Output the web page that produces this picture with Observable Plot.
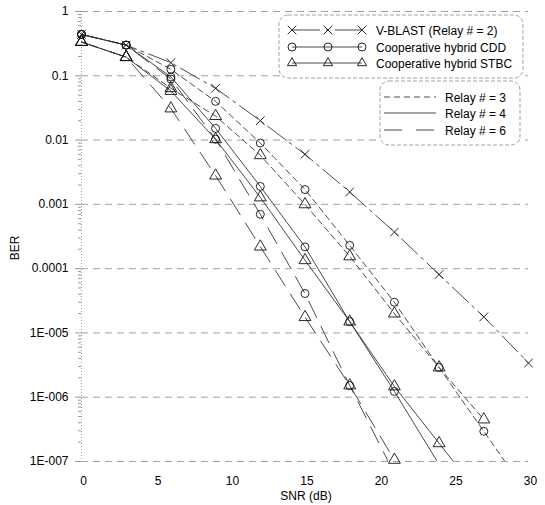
<!DOCTYPE html>
<html><head><meta charset="utf-8">
<script src="https://cdn.jsdelivr.net/npm/d3@7"></script>
<script src="https://cdn.jsdelivr.net/npm/@observablehq/plot@0.6"></script>
<style>
body{margin:0;background:#fff;}
svg{font-family:"Liberation Sans",Arial,sans-serif;}
</style>
</head><body><div id="chart"></div>
<script>
// ---- data ----
const snr = [0, 3, 6, 9, 12, 15, 18, 21, 24, 27, 30];
const vblast = [0.44, 0.30, 0.16, 0.064, 0.020, 0.0060, 0.00156, 0.00037, 8.1e-5, 1.78e-5, 3.4e-6];
const cdd3   = [0.44, 0.30, 0.126, 0.040, 0.0090, 0.0017, 2.3e-4, 3.0e-5, 2.9e-6, 2.95e-7, 3e-8];
const cdd4   = [0.44, 0.30, 0.096, 0.0152, 0.0019, 2.18e-4, 1.5e-5, 1.23e-6, 9e-8];
const cdd6   = [0.44, 0.30, 0.089, 0.0103, 7.0e-4, 4.1e-5, 1.52e-6, 6.5e-8];
const stbc3  = [0.335, 0.195, 0.064, 0.0236, 0.0058, 1.0e-3, 1.55e-4, 2.0e-5, 2.9e-6, 4.5e-7];
const stbc4  = [0.335, 0.195, 0.058, 0.0103, 0.00128, 1.35e-4, 1.5e-5, 1.47e-6, 1.92e-7, 2.5e-8];
const stbc6  = [0.335, 0.195, 0.031, 0.0028, 2.2e-4, 1.76e-5, 1.52e-6, 1.06e-7];

const yTicks = [1, 0.1, 0.01, 0.001, 1e-4, 1e-5, 1e-6, 1e-7];
const yTickLabels = ["1", "0.1", "0.01", "0.001", "0.0001", "1E-005", "1E-006", "1E-007"];
const xTicks = [0, 5, 10, 15, 20, 25, 30];
const markerLegend = ["V-BLAST (Relay # = 2)", "Cooperative hybrid CDD", "Cooperative hybrid STBC"];
const relayLegend = ["Relay # = 3", "Relay # = 4", "Relay # = 6"];

// ---- styles ----
const dashes = {vblast: "22,5,3,5", r3: "6,4", r4: null, r6: "18,10"};
const series = [
  {values: vblast, symbol: "times", dash: dashes.vblast},
  {values: cdd3, symbol: "circle", dash: dashes.r3},
  {values: cdd4, symbol: "circle", dash: dashes.r4},
  {values: cdd6, symbol: "circle", dash: dashes.r6},
  {values: stbc3, symbol: "triangle", dash: dashes.r3},
  {values: stbc4, symbol: "triangle", dash: dashes.r4},
  {values: stbc6, symbol: "triangle", dash: dashes.r6}
];
const rowsOf = s => s.values.map((v, i) => ({snr: snr[i], ber: v}));

const minor = [];
for (let e = -7; e < 0; e++) for (let k = 2; k <= 9; k++) minor.push(k * Math.pow(10, e));

const symR = {times: 4, circle: 4, triangle: 4.4};

const marks = [
  Plot.ruleY(yTicks, {stroke: "#999", strokeWidth: 0.9, strokeDasharray: "7,5"}),
  Plot.ruleX([0], {stroke: "#999", strokeWidth: 0.9, strokeDasharray: "1,2"}),
  Plot.axisY(minor, {tickSize: 3, tickFormat: () => "", label: null, stroke: "#999"}),
  Plot.axisY(yTicks, {tickSize: 6, tickPadding: 7, label: null, stroke: "#999",
    tickFormat: d => yTickLabels[yTicks.findIndex(t => Math.abs(t - d) / t < 1e-9)], fill: "#000"}),
  Plot.axisX(xTicks, {tickSize: 0, tickPadding: 15, label: null, fill: "#000", dx: 2})
];
for (const s of series) {
  marks.push(Plot.line(rowsOf(s), {x: "snr", y: "ber", stroke: "#2a2a2a", strokeWidth: 0.85,
    strokeDasharray: s.dash || undefined, clip: true}));
}
for (const s of series) {
  marks.push(Plot.dot(rowsOf(s).filter(d => d.ber >= 1e-7), {x: "snr", y: "ber", symbol: s.symbol,
    r: symR[s.symbol], stroke: "#111", strokeWidth: 0.9, fill: "none"}));
}

const chart = Plot.plot({
  width: 545, height: 505,
  marginLeft: 81, marginRight: 17, marginTop: 11, marginBottom: 44,
  style: {fontSize: "12px", fontFamily: "Liberation Sans, Arial, sans-serif", background: "#fff"},
  x: {domain: [0, 30]},
  y: {type: "log", domain: [1e-7, 1]},
  marks
});
document.getElementById("chart").appendChild(chart);

// ---- axis titles and legends ----
const svg = d3.select(chart);
svg.append("text").attr("x", 306).attr("y", 500).attr("text-anchor", "middle")
  .attr("font-size", 12).attr("fill", "#000").text("SNR (dB)");
svg.append("text").attr("transform", "translate(19,248) rotate(-90)").attr("text-anchor", "middle")
  .attr("font-size", 12).attr("fill", "#000").text("BER");

const symbolOf = {times: d3.symbolTimes, circle: d3.symbolCircle, triangle: d3.symbolTriangle2};
const sym = name => d3.symbol(symbolOf[name], Math.PI * symR[name] * symR[name])();

// legend 1
const g1 = svg.append("g");
g1.append("rect").attr("x", 279).attr("y", 15).attr("width", 244).attr("height", 63).attr("rx", 9)
  .attr("fill", "#fff").attr("stroke", "#999").attr("stroke-width", 0.9).attr("stroke-dasharray", "4,2");
const l1y = [30, 47, 63];
const l1sym = ["times", "circle", "triangle"];
const l1dash = ["28,6,3,6", null, null];
l1y.forEach((y, i) => {
  g1.append("line").attr("x1", 292).attr("x2", 362).attr("y1", y).attr("y2", y)
    .attr("stroke", "#2a2a2a").attr("stroke-width", 0.85).attr("stroke-dasharray", l1dash[i]);
  [292, 328, 362].forEach(x => g1.append("path").attr("d", sym(l1sym[i]))
    .attr("transform", `translate(${x},${y})`).attr("fill", "none").attr("stroke", "#111").attr("stroke-width", 0.9));
  g1.append("text").attr("x", 376).attr("y", y + 4.5).attr("text-anchor", "start")
    .attr("font-size", 12).attr("fill", "#000").text(markerLegend[i]);
});

// legend 2
const g2 = svg.append("g");
g2.append("rect").attr("x", 380).attr("y", 81).attr("width", 140).attr("height", 64).attr("rx", 9)
  .attr("fill", "#fff").attr("stroke", "#999").attr("stroke-width", 0.9).attr("stroke-dasharray", "4,2");
const l2y = [97, 113, 130];
const l2dash = [dashes.r3, dashes.r4, "18,14"];
l2y.forEach((y, i) => {
  g2.append("line").attr("x1", 384).attr("x2", 436).attr("y1", y).attr("y2", y)
    .attr("stroke", "#2a2a2a").attr("stroke-width", 0.85).attr("stroke-dasharray", l2dash[i]);
  g2.append("text").attr("x", 445).attr("y", y + 4.5).attr("text-anchor", "start")
    .attr("font-size", 12).attr("fill", "#000").text(relayLegend[i]);
});
</script>
</body></html>
